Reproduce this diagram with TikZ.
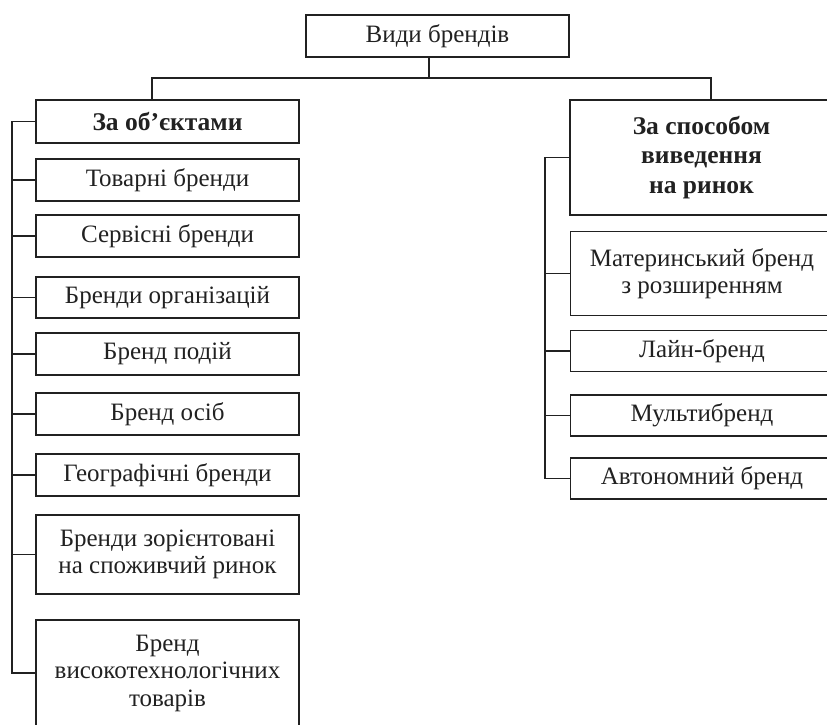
\documentclass[tikz,border=0pt]{standalone}
\usepackage{fontspec}
\setmainfont{Liberation Serif}
\definecolor{ink}{rgb}{0.13,0.13,0.13}
\begin{document}
\begin{tikzpicture}[x=1pt,y=-1pt,
  box/.style={draw=ink,line width=1.1pt,text=ink,minimum width=263pt,inner sep=0pt,align=center,
    font=\fontsize{25}{27.5}\selectfont},
  boldbox/.style={box,font=\fontsize{25.5}{29.5}\selectfont\bfseries},
  link/.style={draw=ink,line width=1.1pt}]
\useasboundingbox (0,0) rectangle (827,724);
\clip (0,0) rectangle (827,724);
% top
\node[box,minimum height=42pt] (top) at (437.5,36) {Види брендів};
% left column
\node[boldbox,minimum height=43pt] (obj) at (167.5,121.5) {За об’єктами};
\node[box,minimum height=42pt] (l1) at (167.5,180) {Товарні бренди};
\node[box,minimum height=42pt] (l2) at (167.5,236) {Сервісні бренди};
\node[box,minimum height=41pt] (l3) at (167.5,297.5) {Бренди організацій};
\node[box,minimum height=42pt] (l4) at (167.5,354) {Бренд подій};
\node[box,minimum height=42pt] (l5) at (167.5,414) {Бренд осіб};
\node[box,minimum height=42pt] (l6) at (167.5,475) {Географічні бренди};
\node[box,minimum height=79pt] (l7) at (167.5,554.5) {Бренди зорієнтовані\\на споживчий ринок};
\node[box,minimum height=106pt] (l8) at (167.5,673) {Бренд\\високотехнологічних\\товарів};
% right column
\node[boldbox,minimum height=115pt] (spos) at (701.5,157.5) {За способом\\виведення\\на ринок};
\node[box,minimum height=84pt] (r1) at (702,273.5) {Материнський бренд\\з розширенням};
\node[box,minimum height=41pt] (r2) at (702,351) {Лайн-бренд};
\node[box,minimum height=41pt] (r3) at (702,415.5) {Мультибренд};
\node[box,minimum height=41pt] (r4) at (702,478.5) {Автономний бренд};
% junctions
\coordinate (j) at (429,78);
\coordinate (jl) at (152,78);
\coordinate (jr) at (711,78);
\coordinate (lb) at (12,0);
\coordinate (rb) at (545,0);
% connectors
\draw[link] (top.south -| j) -- (j);
\draw[link] (obj.north -| jl) |- (jr) -- (spos.north -| jr);
\draw[link] (obj.west) -| (lb |- l8.west) -- (l8.west);
\foreach \n in {l1,l2,l3,l4,l5,l6,l7} \draw[link] (\n.west) -- (\n.west -| lb);
\draw[link] (spos.west) -| (rb |- r4.west) -- (r4.west);
\foreach \n in {r1,r2,r3} \draw[link] (\n.west) -- (\n.west -| rb);
\end{tikzpicture}
\end{document}
